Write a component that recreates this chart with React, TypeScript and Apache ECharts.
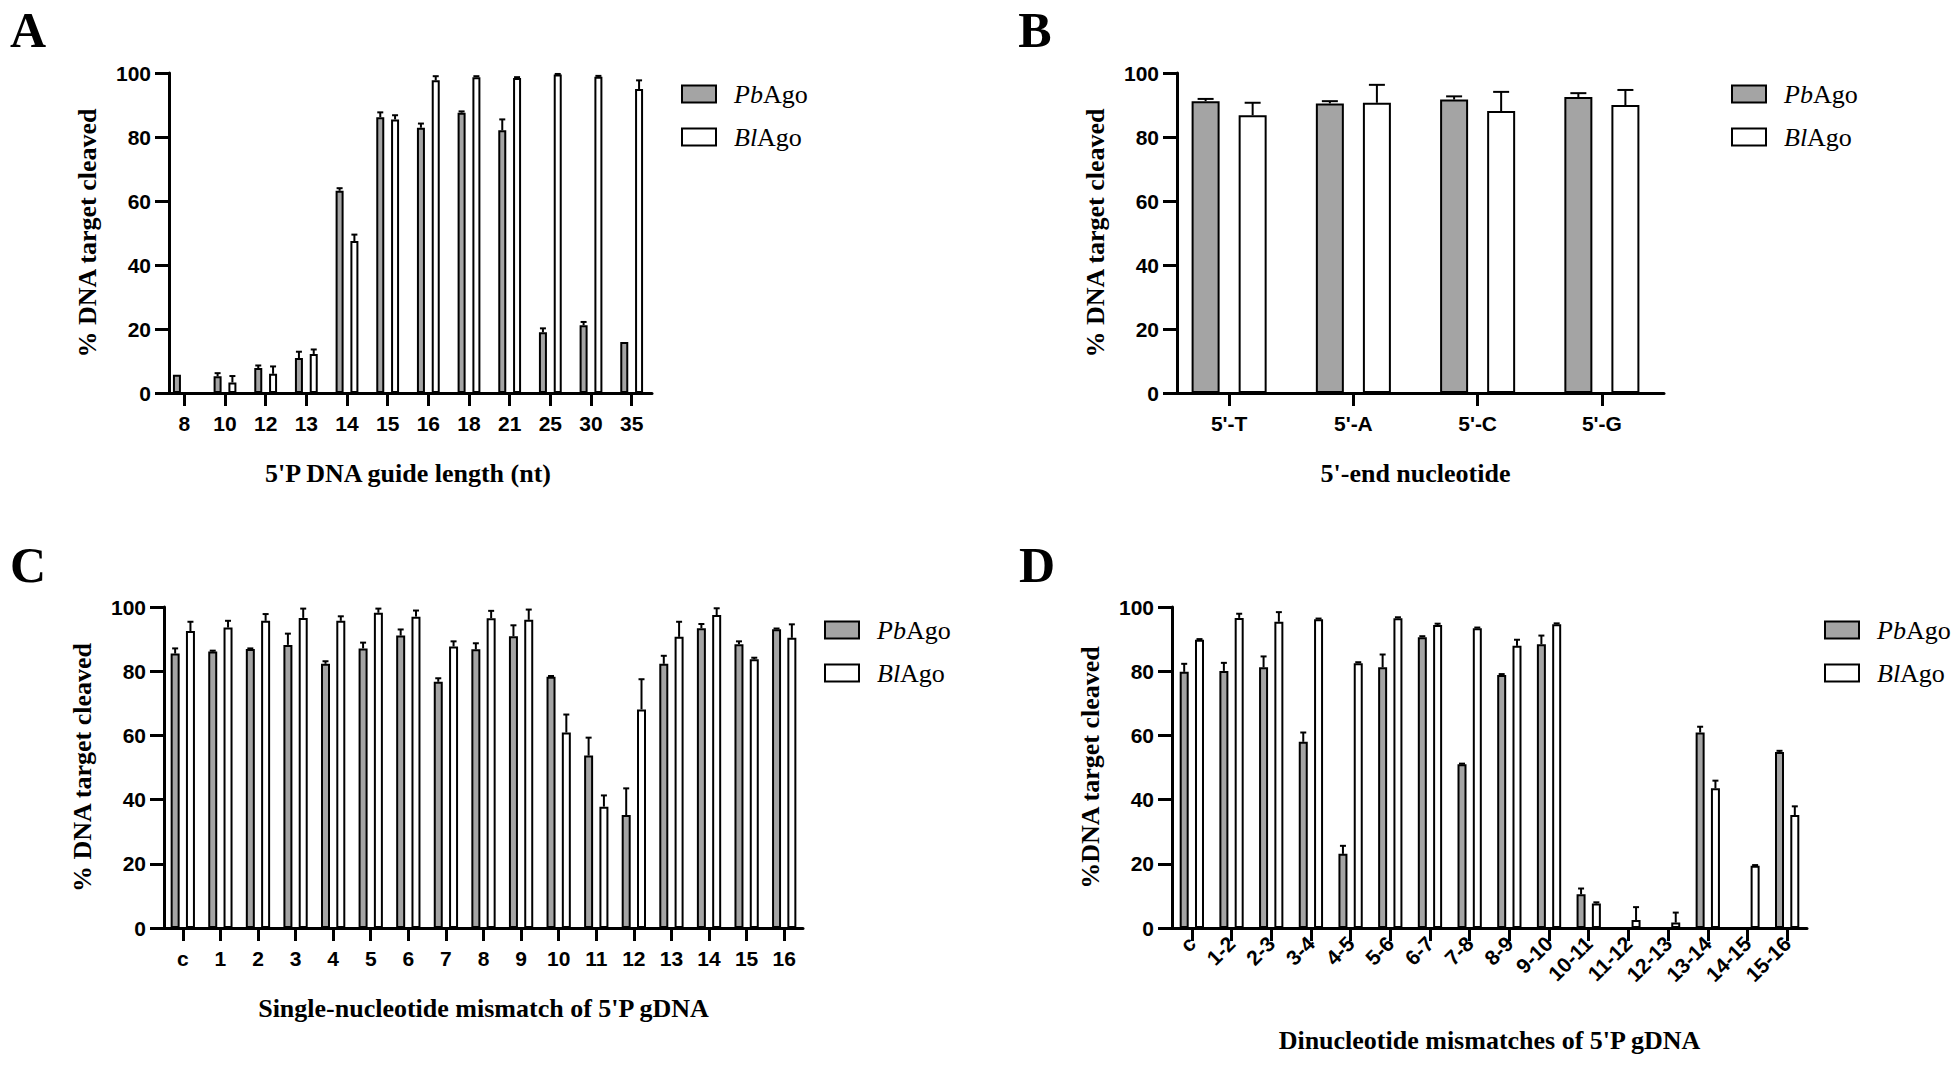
import React, { useEffect, useRef } from "react";
import * as echarts from "echarts";

// ---------- Data ----------
const lengthCats = ["8", "10", "12", "13", "14", "15", "16", "18", "21", "25", "30", "35"];
const lengthPb = [5.7, 5.2, 7.8, 10.9, 63.2, 86.2, 82.9, 87.6, 82.1, 19.0, 21.2, 15.9];
const lengthPbErr = [0, 1.0, 0.8, 2.0, 0.8, 1.5, 1.3, 0.4, 3.4, 1.2, 1.0, 0];
const lengthBl = [0, 3.3, 6.0, 12.2, 47.5, 85.5, 97.7, 98.7, 98.4, 99.5, 98.8, 95.0];
const lengthBlErr = [0, 2.0, 2.3, 1.4, 2.0, 1.3, 1.3, 0.3, 0.3, 0.2, 0.3, 2.7];

const nucCats = ["5'-T", "5'-A", "5'-C", "5'-G"];
const nucPb = [91.2, 90.5, 91.7, 92.5];
const nucPbErr = [0.7, 0.7, 1.0, 1.2];
const nucBl = [86.8, 90.7, 88.1, 90.0];
const nucBlErr = [3.9, 5.6, 6.0, 4.7];

const singleCats = ["c", "1", "2", "3", "4", "5", "6", "7", "8", "9", "10", "11", "12", "13", "14", "15", "16"];
const singlePb = [85.5, 86.1, 86.9, 88.2, 82.3, 87.1, 91.1, 76.7, 86.8, 90.9, 78.3, 53.7, 35.2, 82.3, 93.4, 88.4, 93.1];
const singlePbErr = [1.6, 0.3, 0.2, 3.5, 0.8, 1.8, 1.9, 1.1, 1.9, 3.4, 0.2, 5.6, 8.3, 2.5, 1.3, 0.9, 0.2];
const singleBl = [92.5, 93.6, 95.7, 96.6, 95.7, 98.2, 97.0, 87.7, 96.5, 96.0, 60.9, 37.8, 68.1, 90.7, 97.5, 83.7, 90.4];
const singleBlErr = [2.9, 2.1, 2.1, 2.9, 1.4, 1.3, 1.9, 1.6, 2.3, 3.2, 5.6, 3.5, 9.4, 4.7, 2.1, 0.5, 4.2];

const diCats = ["c", "1-2", "2-3", "3-4", "4-5", "5-6", "6-7", "7-8", "8-9", "9-10", "10-11", "11-12", "12-13", "13-14", "14-15", "15-16"];
const diPb = [79.8, 80.1, 81.2, 58.0, 23.1, 81.2, 90.6, 51.0, 78.8, 88.4, 10.5, 0, 0, 60.9, 0, 54.8];
const diPbErr = [2.5, 2.5, 3.4, 2.9, 2.5, 4.0, 0.3, 0.2, 0.3, 2.7, 1.8, 0, 0, 1.8, 0, 0.4];
const diBl = [89.8, 96.6, 95.4, 96.2, 82.5, 96.5, 94.4, 93.4, 87.9, 94.6, 7.6, 2.5, 1.7, 43.5, 19.4, 35.2];
const diBlErr = [0.2, 1.3, 3.0, 0.2, 0.3, 0.3, 0.4, 0.2, 1.9, 0.3, 0.4, 4.0, 3.1, 2.4, 0.2, 2.7];

const yTicks = [0, 20, 40, 60, 80, 100];

// ---------- Styles ----------
const SANS = "'Liberation Sans', Arial, sans-serif";
const SERIF = "'Liberation Serif', 'Times New Roman', serif";
const GRAY = "#a4a4a4";

type Panel = {
  letter: string;
  letterPos: [number, number];
  cats: string[];
  pb: number[];
  pbErr: number[];
  bl: number[];
  blErr: number[];
  grid: { left: number; top: number; width: number; height: number };
  yOffset: number;
  barW: number;
  gap: number;
  cap: number;
  xTitle: string;
  yTitle: string;
  xNameGap: number;
  yNameGap: number;
  rotate: number;
  xLabelMargin: number;
  legendPos: [number, number];
};

const panels: Panel[] = [
  {
    letter: "A", letterPos: [28, 30],
    cats: lengthCats, pb: lengthPb, pbErr: lengthPbErr, bl: lengthBl, blErr: lengthBlErr,
    grid: { left: 164, top: 73, width: 488, height: 320 }, yOffset: -5,
    barW: 8, gap: 0.85, cap: 6,
    xTitle: "5'P DNA guide length (nt)", yTitle: "% DNA target cleaved",
    xNameGap: 67, yNameGap: 69, rotate: 0, xLabelMargin: 20, legendPos: [681, 81],
  },
  {
    letter: "B", letterPos: [1035, 30],
    cats: nucCats, pb: nucPb, pbErr: nucPbErr, bl: nucBl, blErr: nucBlErr,
    grid: { left: 1167, top: 73, width: 497, height: 320 }, yOffset: -10,
    barW: 28, gap: 0.68, cap: 16,
    xTitle: "5'-end nucleotide", yTitle: "% DNA target cleaved",
    xNameGap: 67, yNameGap: 69, rotate: 0, xLabelMargin: 20, legendPos: [1731, 81],
  },
  {
    letter: "C", letterPos: [28, 565],
    cats: singleCats, pb: singlePb, pbErr: singlePbErr, bl: singleBl, blErr: singleBlErr,
    grid: { left: 164, top: 607, width: 639, height: 321 }, yOffset: 0,
    barW: 9, gap: 0.7, cap: 6,
    xTitle: "Single-nucleotide mismatch of 5'P gDNA", yTitle: "% DNA target cleaved",
    xNameGap: 67, yNameGap: 69, rotate: 0, xLabelMargin: 20, legendPos: [824, 617],
  },
  {
    letter: "D", letterPos: [1037, 565],
    cats: diCats, pb: diPb, pbErr: diPbErr, bl: diBl, blErr: diBlErr,
    grid: { left: 1172, top: 607, width: 635, height: 321 }, yOffset: 0,
    barW: 9, gap: 0.7, cap: 6,
    xTitle: "Dinucleotide mismatches of 5'P gDNA", yTitle: "%DNA target cleaved",
    xNameGap: 99, yNameGap: 69, rotate: 45, xLabelMargin: 12, legendPos: [1824, 617],
  },
];

function errSeries(gi: number, vals: number[], errs: number[], dx: number, capW: number) {
  return {
    type: "custom",
    xAxisIndex: gi,
    yAxisIndex: gi,
    z: 5,
    silent: true,
    data: vals.map((v, i) => [i, v, errs[i]]),
    encode: { x: 0, y: 1 },
    renderItem: (_params: any, api: any) => {
      const i = api.value(0);
      const v = api.value(1);
      const e = api.value(2);
      if (!(e > 0)) return null;
      const base = api.coord([i, v]);
      const top = api.coord([i, v + e]);
      const x = base[0] + dx;
      const st = { stroke: "#000", lineWidth: 2 };
      return {
        type: "group",
        children: [
          { type: "line", shape: { x1: x, y1: base[1], x2: x, y2: top[1] }, style: st },
          { type: "line", shape: { x1: x - capW / 2, y1: top[1], x2: x + capW / 2, y2: top[1] }, style: st },
        ],
      };
    },
  };
}

function buildOption() {
  const grid: any[] = [];
  const xAxis: any[] = [];
  const yAxis: any[] = [];
  const series: any[] = [];
  const legend: any[] = [];
  const graphic: any[] = [];

  panels.forEach((p, gi) => {
    grid.push({ ...p.grid, containLabel: false });
    xAxis.push({
      type: "category",
      gridIndex: gi,
      data: p.cats,
      boundaryGap: true,
      axisLine: { show: true, lineStyle: { color: "#000", width: 3 } },
      axisTick: { show: true, alignWithLabel: true, length: 13, lineStyle: { color: "#000", width: 3 } },
      axisLabel: {
        interval: 0,
        rotate: p.rotate,
        margin: p.xLabelMargin,
        color: "#000",
        fontFamily: SANS,
        fontWeight: "bold",
        fontSize: 21,
      },
      splitLine: { show: false },
      name: p.xTitle,
      nameLocation: "middle",
      nameGap: p.xNameGap,
      nameTextStyle: { fontFamily: SERIF, fontWeight: "bold", fontSize: 26, color: "#000" },
    });
    yAxis.push({
      type: "value",
      gridIndex: gi,
      min: yTicks[0],
      max: yTicks[yTicks.length - 1],
      interval: yTicks[1] - yTicks[0],
      offset: p.yOffset,
      axisLine: { show: true, lineStyle: { color: "#000", width: 3 } },
      axisTick: { show: true, length: 14, lineStyle: { color: "#000", width: 3 } },
      axisLabel: { margin: 18, color: "#000", fontFamily: SANS, fontWeight: "bold", fontSize: 21 },
      splitLine: { show: false },
      name: p.yTitle,
      nameLocation: "middle",
      nameRotate: 90,
      nameGap: p.yNameGap,
      nameTextStyle: { fontFamily: SERIF, fontWeight: "bold", fontSize: 26, color: "#000" },
    });
    const dx = (p.barW * (1 + p.gap)) / 2;
    series.push({
      type: "bar",
      name: "PbAgo",
      xAxisIndex: gi,
      yAxisIndex: gi,
      data: p.pb,
      barWidth: p.barW,
      barGap: `${Math.round(p.gap * 100)}%`,
      itemStyle: { color: GRAY, borderColor: "#000", borderWidth: 2 },
      silent: true,
    });
    series.push({
      type: "bar",
      name: "BlAgo",
      xAxisIndex: gi,
      yAxisIndex: gi,
      data: p.bl,
      barWidth: p.barW,
      barGap: `${Math.round(p.gap * 100)}%`,
      itemStyle: { color: "#fff", borderColor: "#000", borderWidth: 2 },
      silent: true,
    });
    series.push(errSeries(gi, p.pb, p.pbErr, -dx, p.cap));
    series.push(errSeries(gi, p.bl, p.blErr, dx, p.cap));

    legend.push({
      left: p.legendPos[0],
      top: p.legendPos[1],
      orient: "vertical",
      padding: 0,
      icon: "rect",
      itemWidth: 34,
      itemHeight: 17,
      itemGap: 17,
      selectedMode: false,
      data: ["PbAgo", "BlAgo"],
      itemStyle: { borderColor: "#000", borderWidth: 2 },
      formatter: (n: string) => (n === "PbAgo" ? "{i|Pb}{n|Ago}" : "{i|Bl}{n|Ago}"),
      textStyle: {
        padding: [0, 0, 0, 13],
        rich: {
          i: { fontFamily: SERIF, fontStyle: "italic", fontSize: 26, color: "#000", lineHeight: 26 },
          n: { fontFamily: SERIF, fontSize: 26, color: "#000", lineHeight: 26 },
        },
      },
    });

    graphic.push({
      type: "text",
      x: p.letterPos[0],
      y: p.letterPos[1],
      style: {
        text: p.letter,
        fontFamily: SERIF,
        fontWeight: "bold",
        fontSize: 50,
        fill: "#000",
        textAlign: "center",
        textVerticalAlign: "middle",
      },
    });
  });

  return { animation: false, backgroundColor: "#fff", grid, xAxis, yAxis, series, legend, graphic };
}

export default function App() {
  const ref = useRef<HTMLDivElement>(null);
  useEffect(() => {
    const chart = echarts.init(ref.current!, null, { renderer: "svg" });
    chart.setOption(buildOption() as any);
    return () => chart.dispose();
  }, []);
  return (
    <div
      ref={ref}
      style={{ position: "absolute", left: 0, top: 0, width: 1959, height: 1070, background: "#fff" }}
    />
  );
}
